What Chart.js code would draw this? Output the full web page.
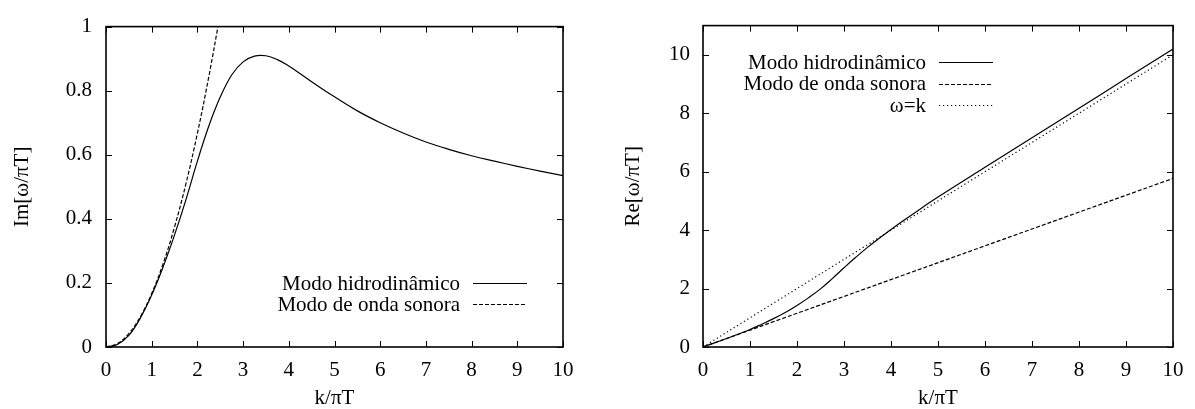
<!DOCTYPE html>
<html>
<head>
<meta charset="utf-8">
<script src="https://cdn.jsdelivr.net/npm/chart.js@4.4.1/dist/chart.umd.min.js"></script>
<style>
  html, body { margin: 0; padding: 0; background: #fff; }
  #wrap { position: relative; width: 1195px; height: 409px; }
  .box { position: absolute; top: 0; height: 409px; }
  #left { left: 0; width: 590px; }
  #right { left: 600px; width: 595px; }
</style>
</head>
<body>
<div id="wrap">
  <div class="box" id="left"><canvas id="imChart" width="590" height="409"></canvas></div>
  <div class="box" id="right"><canvas id="reChart" width="595" height="409"></canvas></div>
</div>
<script>
// Modos quasinormais: parte imaginária (esquerda) e parte real (direita)

// eixo horizontal comum
const xTicks = [0, 1, 2, 3, 4, 5, 6, 7, 8, 9, 10];

// Im[ω/πT] - modo hidrodinâmico
const kIm = [0, 0.25, 0.5, 0.75, 1.0, 1.25, 1.5, 1.75, 2.0, 2.25, 2.5, 2.75, 3.0, 3.25, 3.5, 3.75, 4.0, 4.25, 4.5, 4.75, 5, 5.5, 6, 6.5, 7, 7.5, 8, 8.5, 9, 9.5, 10];
const imHydro = [0, 0.008, 0.036, 0.09, 0.162, 0.25, 0.35, 0.46, 0.58, 0.69, 0.78, 0.849, 0.89, 0.908, 0.909, 0.897, 0.877, 0.853, 0.828, 0.804, 0.781, 0.737, 0.70, 0.668, 0.64, 0.617, 0.597, 0.58, 0.564, 0.549, 0.535];

// Im[ω/πT] - modo de onda sonora
const kImSound = [0, 0.25, 0.5, 0.75, 1.0, 1.25, 1.5, 1.75, 2.0, 2.25, 2.5];
const imSound = [0, 0.0104, 0.042, 0.094, 0.167, 0.26, 0.375, 0.51, 0.667, 0.844, 1.04];

// Re[ω/πT]
const kRe = [0, 0.5, 1, 1.25, 1.5, 1.75, 2, 2.25, 2.5, 2.75, 3, 3.25, 3.5, 3.75, 4, 4.25, 4.5, 5, 6, 7, 8, 9, 10];
const reHydro = [0, 0.29, 0.6, 0.78, 0.97, 1.18, 1.42, 1.69, 1.99, 2.34, 2.71, 3.07, 3.41, 3.72, 4.02, 4.31, 4.59, 5.13, 6.15, 7.16, 8.17, 9.19, 10.2];
const kReSound = [0, 10];
const reSound = [0, 5.77];
const kLine = [0, 10];
const reLine = [0, 10];

const imLabels = ['Modo hidrodinâmico', 'Modo de onda sonora'];
const reLabels = ['Modo hidrodinâmico', 'Modo de onda sonora', 'ω=k'];

const FONT = '"Liberation Serif", "Times New Roman", serif';
Chart.defaults.font.family = FONT;
Chart.defaults.font.size = 21;
Chart.defaults.color = '#000';

function pts(xs, ys) {
    return xs.map((v, i) => ({ x: v, y: ys[i] }));
}

// moldura com marcas para dentro, nos quatro lados (estilo gnuplot)
const frameTicks = {
    id: 'frameTicks',
    afterDatasetsDraw(chart) {
        const { ctx, chartArea: a, scales } = chart;
        const L = 6;
        ctx.save();
        ctx.strokeStyle = '#000';
        ctx.lineWidth = 1;
        ctx.beginPath();
        scales.x.ticks.forEach(t => {
            const px = Math.round(scales.x.getPixelForValue(t.value)) + 0.5;
            ctx.moveTo(px, a.bottom); ctx.lineTo(px, a.bottom - L);
            ctx.moveTo(px, a.top); ctx.lineTo(px, a.top + L);
        });
        scales.y.ticks.forEach(t => {
            const py = Math.round(scales.y.getPixelForValue(t.value)) + 0.5;
            ctx.moveTo(a.left, py); ctx.lineTo(a.left + L, py);
            ctx.moveTo(a.right, py); ctx.lineTo(a.right - L, py);
        });
        ctx.stroke();
        ctx.lineWidth = 1.6;
        ctx.strokeRect(a.left, a.top, a.right - a.left, a.bottom - a.top);
        ctx.restore();
    }
};

// legenda: texto alinhado à direita, amostra da linha à direita do texto
const keyLegend = {
    id: 'keyLegend',
    afterDraw(chart, args, opts) {
        const ctx = chart.ctx;
        ctx.save();
        ctx.font = '21px ' + FONT;
        ctx.fillStyle = '#000';
        ctx.textAlign = 'right';
        ctx.textBaseline = 'middle';
        chart.data.datasets.forEach((ds, i) => {
            const y = opts.top + i * opts.row;
            ctx.fillText(ds.label, opts.textRight, y + 1);
            ctx.beginPath();
            ctx.setLineDash(ds.borderDash || []);
            ctx.lineWidth = ds.borderWidth;
            ctx.strokeStyle = ds.borderColor;
            ctx.moveTo(opts.textRight + opts.gap, Math.round(y) + 0.5);
            ctx.lineTo(opts.textRight + opts.gap + opts.len, Math.round(y) + 0.5);
            ctx.stroke();
        });
        ctx.restore();
    }
};

function lineSet(label, data, dash) {
    return {
        label: label,
        data: data,
        borderColor: '#000',
        borderWidth: 1.2,
        borderDash: dash,
        pointRadius: 0,
        fill: false,
        tension: 0.4
    };
}

function makeChart(id, datasets, yOpts, layout, legendPos) {
    const ctx = document.getElementById(id).getContext('2d');
    return new Chart(ctx, {
        type: 'line',
        data: { datasets: datasets },
        options: {
            responsive: false,
            animation: false,
            layout: { padding: { top: 17, right: layout.right, left: 0, bottom: 0 } },
            plugins: {
                legend: { display: false },
                tooltip: { enabled: false },
                keyLegend: legendPos
            },
            scales: {
                x: {
                    type: 'linear',
                    min: 0, max: 10,
                    grid: { display: false, drawTicks: false },
                    border: { display: false },
                    afterBuildTicks: s => { s.ticks = xTicks.map(v => ({ value: v })); },
                    ticks: { padding: 11, autoSkip: false, maxRotation: 0, callback: v => String(v) },
                    title: { display: true, text: 'k/πT', font: { size: 21, lineHeight: 1 }, padding: { top: 0, bottom: 0 } },
                    afterFit: s => { s.height = 62; }
                },
                y: {
                    type: 'linear',
                    min: yOpts.min, max: yOpts.max,
                    grid: { display: false, drawTicks: false },
                    border: { display: false },
                    afterBuildTicks: s => { s.ticks = yOpts.ticks.map(v => ({ value: v })); },
                    ticks: { padding: yOpts.pad, callback: v => String(v) },
                    title: { display: true, text: yOpts.title, padding: { top: yOpts.titlePad, bottom: 0 } },
                    afterFit: s => { s.width = layout.yWidth; }
                }
            }
        },
        plugins: [frameTicks, keyLegend]
    });
}

makeChart('imChart', [
    lineSet(imLabels[0], pts(kIm, imHydro), []),
    lineSet(imLabels[1], pts(kImSound, imSound), [4, 2])
], { min: 0, max: 1, ticks: [0, 0.2, 0.4, 0.6, 0.8, 1], pad: 14, title: 'Im[ω/πT]', titlePad: 10 },
   { right: 27, yWidth: 106 },
   { textRight: 460, top: 283, row: 21, gap: 13, len: 54 });

makeChart('reChart', [
    lineSet(reLabels[0], pts(kRe, reHydro), []),
    lineSet(reLabels[1], pts(kReSound, reSound), [4, 2]),
    lineSet(reLabels[2], pts(kLine, reLine), [1.2, 2.8])
], { min: 0, max: 11, ticks: [0, 2, 4, 6, 8, 10], pad: 13, title: 'Re[ω/πT]', titlePad: 21 },
   { right: 22, yWidth: 103 },
   { textRight: 326, top: 62, row: 21.5, gap: 13, len: 54 });
</script>
</body>
</html>
